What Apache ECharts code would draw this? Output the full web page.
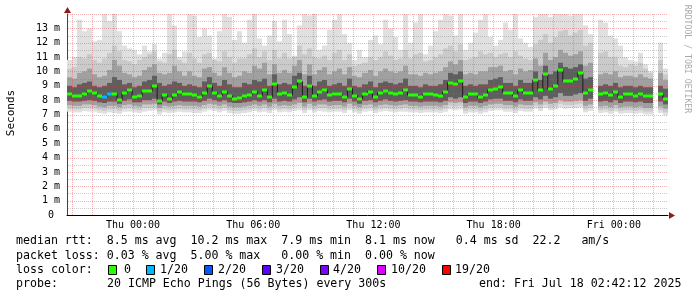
<!DOCTYPE html>
<html><head><meta charset="utf-8">
<script src="https://cdn.jsdelivr.net/npm/echarts@6/dist/echarts.min.js"></script>
<style>html,body{margin:0;padding:0;background:#fff;overflow:hidden}#c{width:697px;height:297px}</style>
</head><body><div id="c"></div>
<script>
// time axis in hours relative to Thu 00:00 (start Wed 20:42:12, end Fri 02:42:12)
const startHour = -3.2967;
const endHour = 26.7033;
const stepHours = 0.25; // 15-minute bins

const median = [8.45,8.3,8.3,8.4,8.65,8.5,8.3,8.25,8.4,8.45,
 8.0,8.5,8.7,8.2,8.27,8.65,8.65,9.0,7.95,8.35,
 8.1,8.35,8.6,8.4,8.4,8.35,8.25,8.5,9.0,8.5,
 8.3,8.6,8.3,8.1,8.15,8.27,8.35,8.6,8.3,8.7,
 8.25,9.1,8.4,8.5,8.35,8.9,9.3,8.2,9.0,8.3,
 8.6,8.7,8.35,8.4,8.4,8.25,8.8,8.3,8.1,8.45,
 8.6,8.2,8.5,8.65,8.5,8.4,8.5,8.7,8.35,8.35,
 8.25,8.4,8.4,8.35,8.3,8.55,9.2,9.1,9.3,8.2,
 8.4,8.4,8.2,8.35,8.7,8.8,8.9,8.5,8.5,8.3,
 8.7,8.5,8.5,9.4,8.7,9.8,8.75,9.0,10.1,9.3,
 9.3,9.45,9.9,8.5,8.7,null,8.4,8.5,8.35,8.6,
 8.2,8.4,8.4,8.3,8.4,8.27,8.27,null,8.4,8.1];

// smoke envelope: lightest layer (min..max)
const smokeMax = [10.8,11.0,13.6,12.8,13.0,12.1,12.2,14.2,13.5,14.2,
 12.8,11.8,11.6,11.5,11.2,11.8,11.4,11.9,10.9,11.3,
 14.2,13.2,11.0,11.4,14.2,13.9,12.4,13.0,12.5,10.9,
 12.8,14.2,13.8,12.2,12.8,12.0,13.6,14.2,12.3,11.8,
 12.5,13.5,12.1,13.6,12.6,11.1,13.2,14.2,13.9,14.2,
 11.5,11.8,12.9,13.6,14.2,12.6,12.0,10.8,11.5,11.0,
 12.2,12.5,11.9,13.6,13.0,12.4,11.5,14.2,12.0,13.4,
 14.0,11.2,11.8,12.8,13.6,14.2,13.9,12.5,14.2,11.5,
 12.0,12.7,13.6,14.2,12.4,11.8,12.2,13.4,12.9,14.0,
 12.3,12.0,11.7,13.8,14.2,14.2,13.8,14.2,14.2,14.2,
 13.9,14.2,14.2,13.2,12.6,null,13.6,13.4,12.5,12.3,
 11.8,11.0,10.8,10.7,11.3,10.5,10.0,null,12.0,10.2];
const smokeMin = [7.2,7.15,7.15,7.25,7.2,7.2,7.1,7.05,7.15,7.1,
 7.05,7.2,7.2,7.15,7.1,7.2,7.25,7.3,7.0,7.15,
 7.1,7.15,7.2,7.15,7.15,7.1,7.1,7.2,7.3,7.25,
 7.15,7.25,7.1,7.05,7.05,7.1,7.15,7.25,7.15,7.2,
 7.1,7.3,7.15,7.2,7.15,7.25,7.3,7.1,7.3,7.15,
 7.25,7.2,7.15,7.2,7.2,7.1,7.3,7.15,7.05,7.2,
 7.25,7.1,7.2,7.25,7.2,7.15,7.2,7.2,7.15,7.15,
 7.1,7.15,7.15,7.15,7.1,7.2,7.35,7.3,7.35,7.05,
 7.15,7.15,7.05,7.15,7.25,7.3,7.3,7.2,7.2,7.1,
 7.25,7.2,7.2,7.4,7.25,7.45,7.3,7.35,7.5,7.4,
 7.45,7.45,7.5,7.15,7.25,null,7.1,7.15,7.05,7.2,
 7.05,7.1,7.1,7.05,7.1,7.0,7.0,null,7.1,6.95];
// second layer
const smokeHi2 = [10.2,10.3,11.0,10.9,11.2,10.8,10.6,10.9,11.3,11.8,
 11.4,10.8,10.7,10.5,10.8,11.0,11.2,11.4,10.7,10.6,
 11.2,11.5,10.8,10.6,11.3,10.9,10.6,11.2,11.3,10.8,
 10.7,11.4,11.0,10.6,10.9,10.9,11.2,11.6,11.0,11.4,
 10.8,11.5,10.9,11.3,10.9,11.0,11.8,11.2,11.6,11.0,
 10.9,11.1,10.8,11.3,11.5,10.8,11.2,10.4,10.5,10.6,
 11.0,10.8,11.0,11.4,11.1,10.8,10.9,11.5,10.9,11.2,
 11.3,10.7,10.8,11.0,11.2,11.6,11.8,11.4,11.9,10.8,
 10.9,11.0,11.4,11.2,11.3,11.0,11.2,11.3,11.0,11.4,
 11.1,10.9,10.8,11.9,12.2,12.6,12.0,12.4,12.8,12.9,
 12.5,12.7,12.9,11.8,12.0,null,11.3,11.4,11.0,11.0,
 10.4,10.3,10.5,10.4,10.6,10.2,9.9,null,10.8,9.8];
const smokeLo2 = [7.4,7.35,7.35,7.45,7.45,7.4,7.3,7.25,7.35,7.35,
 7.25,7.4,7.45,7.35,7.3,7.45,7.45,7.5,7.2,7.35,
 7.3,7.35,7.4,7.35,7.35,7.35,7.3,7.4,7.5,7.45,
 7.35,7.45,7.3,7.25,7.25,7.3,7.35,7.45,7.35,7.45,
 7.3,7.5,7.35,7.4,7.35,7.45,7.55,7.3,7.5,7.35,
 7.45,7.45,7.35,7.4,7.4,7.3,7.5,7.35,7.25,7.4,
 7.45,7.3,7.4,7.45,7.4,7.35,7.4,7.45,7.35,7.35,
 7.3,7.35,7.35,7.35,7.3,7.4,7.6,7.55,7.6,7.25,
 7.35,7.35,7.25,7.35,7.45,7.5,7.5,7.4,7.4,7.3,
 7.45,7.4,7.4,7.6,7.45,7.65,7.5,7.55,7.75,7.65,
 7.65,7.7,7.75,7.35,7.45,null,7.3,7.35,7.25,7.4,
 7.25,7.3,7.3,7.25,7.3,7.2,7.2,null,7.3,7.15];
// third layer
const smokeHi3 = [9.6,9.5,9.9,10.0,10.2,9.8,9.6,9.7,10.1,10.8,
 10.4,9.9,9.8,9.6,9.7,10.1,10.3,10.5,9.9,9.8,
 9.9,10.4,10.0,9.7,10.0,9.7,9.6,10.2,10.3,9.9,
 9.7,10.3,9.9,9.6,9.7,10.0,9.9,10.4,10.2,10.6,
 9.8,10.5,9.9,10.1,9.9,10.4,10.8,9.8,10.5,9.8,
 10.1,10.3,9.8,10.0,10.2,9.8,10.3,9.7,9.6,9.9,
 10.1,9.7,10.0,10.2,10.0,9.9,10.0,10.4,9.8,9.8,
 9.7,9.9,9.8,9.9,10.0,10.3,10.7,10.5,10.8,9.8,
 9.9,9.8,10.0,10.0,10.3,10.3,10.4,10.0,10.1,9.8,
 10.2,10.0,10.1,10.9,10.4,11.3,10.8,11.0,11.5,11.3,
 11.1,11.2,11.4,10.4,10.6,null,9.8,9.9,9.8,10.0,
 9.6,9.7,9.7,9.6,9.8,9.6,9.5,null,9.9,9.4];
const smokeLo3 = [7.65,7.6,7.6,7.7,7.7,7.65,7.55,7.5,7.6,7.6,
 7.5,7.65,7.7,7.6,7.55,7.7,7.7,7.75,7.45,7.6,
 7.55,7.6,7.65,7.6,7.6,7.6,7.55,7.65,7.75,7.7,
 7.6,7.7,7.55,7.5,7.5,7.55,7.6,7.7,7.6,7.7,
 7.55,7.75,7.6,7.65,7.6,7.7,7.8,7.55,7.75,7.6,
 7.7,7.7,7.6,7.65,7.65,7.55,7.75,7.6,7.5,7.65,
 7.7,7.55,7.65,7.7,7.65,7.6,7.65,7.7,7.6,7.6,
 7.55,7.6,7.6,7.6,7.55,7.65,7.85,7.8,7.85,7.5,
 7.6,7.6,7.5,7.6,7.7,7.75,7.75,7.65,7.65,7.55,
 7.7,7.65,7.65,7.85,7.7,7.9,7.75,7.8,8.0,7.9,
 7.9,7.95,8.0,7.6,7.7,null,7.55,7.6,7.5,7.65,
 7.5,7.55,7.55,7.5,7.55,7.45,7.45,null,7.55,7.4];
// darkest layer around the median
const smokeHi4 = [9.0,8.9,9.1,9.2,9.3,9.0,8.9,9.0,9.2,9.6,
 9.4,9.1,9.2,8.9,9.0,9.3,9.4,9.7,9.2,9.0,
 9.1,9.3,9.2,9.0,9.1,9.0,8.9,9.3,9.6,9.2,
 9.0,9.4,9.1,8.9,8.9,9.2,9.1,9.4,9.3,9.5,
 9.0,9.8,9.1,9.2,9.1,9.7,9.9,9.0,9.7,9.0,
 9.3,9.4,9.0,9.1,9.2,9.0,9.5,9.0,8.9,9.1,
 9.3,8.9,9.2,9.3,9.2,9.1,9.2,9.5,9.0,9.0,
 8.9,9.1,9.0,9.0,9.1,9.4,9.9,9.8,10.0,9.0,
 9.1,9.0,9.1,9.1,9.4,9.5,9.6,9.2,9.2,9.0,
 9.4,9.2,9.2,10.0,9.4,10.4,9.8,10.0,10.6,10.3,
 10.2,10.3,10.5,9.5,9.6,null,9.0,9.1,9.0,9.2,
 8.9,9.0,9.0,8.9,9.0,8.9,8.9,null,9.0,8.8];
const smokeLo4 = [7.95,7.9,7.9,7.95,8.0,7.95,7.85,7.8,7.9,7.9,
 7.75,7.95,8.05,7.85,7.85,8.0,8.0,8.1,7.7,7.9,
 7.8,7.9,7.95,7.9,7.9,7.9,7.85,7.95,8.1,8.0,
 7.9,8.0,7.85,7.8,7.8,7.85,7.9,8.0,7.9,8.0,
 7.85,8.1,7.9,7.95,7.9,8.05,8.2,7.85,8.1,7.9,
 8.0,8.05,7.9,7.95,7.95,7.85,8.1,7.9,7.75,7.95,
 8.0,7.85,7.95,8.05,7.95,7.9,7.95,8.0,7.9,7.9,
 7.85,7.9,7.9,7.9,7.85,7.95,8.2,8.1,8.2,7.8,
 7.9,7.9,7.8,7.9,8.05,8.1,8.1,7.95,7.95,7.85,
 8.05,7.95,7.95,8.2,8.05,8.3,8.1,8.2,8.5,8.3,
 8.3,8.4,8.5,7.95,8.1,null,7.9,7.95,7.85,8.0,
 7.8,7.9,7.9,7.85,7.9,7.8,7.8,null,7.9,7.7];
// lost pings (out of 20) per bin
const lossPings = [0,0,0,0,0,0,0,1,1,0, 0,0,0,0,0,0,0,0,0,0, 0,0,0,0,0,0,0,0,0,0,
 0,0,0,0,0,0,0,0,0,0, 0,0,0,0,0,0,0,0,0,0, 0,0,0,0,0,0,0,0,0,0,
 0,0,0,0,0,0,0,0,0,0, 0,0,0,0,0,0,0,0,0,0, 0,0,0,0,0,0,0,0,0,0,
 0,0,0,0,0,0,0,0,0,0, 0,0,0,0,0,0,0,0,0,0, 0,0,0,0,0,0,0,0,0,0];

const lossLevels = [0, 1, 2, 3, 4, 10, 19];
const lossLabels = ['0', '1/20', '2/20', '3/20', '4/20', '10/20', '19/20'];
const lossColors = ['#26ff00', '#00b8ff', '#0059ff', '#5e00ff', '#7e00ff', '#dd00ff', '#ff0000'];

const xTickHours = [0, 6, 12, 18, 24];
const xTickLabels = ['Thu 00:00', 'Thu 06:00', 'Thu 12:00', 'Thu 18:00', 'Fri 00:00'];
const yMax = 14;

const legendLine1 = 'median rtt:  8.5 ms avg  10.2 ms max  7.9 ms min  8.1 ms now   0.4 ms sd  22.2   am/s';
const legendLine2 = 'packet loss: 0.03 % avg  5.00 % max   0.00 % min  0.00 % now';
const probeText = '20 ICMP Echo Pings (56 Bytes) every 300s';
const endText = 'end: Fri Jul 18 02:42:12 2025';

function lossColor(n) {
  let c = lossColors[0];
  for (let k = 0; k < lossLevels.length; k++) if (n >= lossLevels[k]) c = lossColors[k];
  return c;
}

const smokeData = [], medData = [], lineData = [];
for (let i = 0; i < median.length; i++) {
  const x = startHour + (i + 0.5) * stepHours;
  if (median[i] == null) { lineData.push([x, '-']); continue; }
  smokeData.push([x, smokeMin[i], smokeMax[i], smokeLo2[i], smokeHi2[i], smokeLo3[i], smokeHi3[i], smokeLo4[i], smokeHi4[i]]);
  medData.push([x, median[i], lossPings[i]]);
  lineData.push([x, median[i]]);
}
const vGrid = [];
for (let h = Math.ceil(startHour); h <= Math.floor(endHour); h++) vGrid.push([h, 0]);
const hGrid = [];
for (let v = 0.5; v <= yMax + 0.001; v += 0.5) hGrid.push([startHour, v]);

// dotted line as a compound path of 1px squares (1 on, 1 off)
function dotPathV(x, y0, y1) {
  let d = '';
  for (let y = y0; y < y1; y += 2) d += 'M' + x + ' ' + y + 'h1v1h-1z';
  return d;
}
function dotPathH(x0, x1, y) {
  let d = '';
  for (let x = x0; x < x1; x += 2) d += 'M' + x + ' ' + y + 'h1v1h-1z';
  return d;
}
const GRID_RED = 'rgba(220,60,60,0.38)';
const GRID_GRAY = 'rgba(120,120,120,0.38)';

const MONO = '"DejaVu Sans Mono", monospace';
const chart = echarts.init(document.getElementById('c'), null, {renderer: 'canvas'});

function snap(v) { return Math.round(v); }

chart.setOption({
  animation: false,
  backgroundColor: '#ffffff',
  grid: {left: 67, top: 14, width: 601, height: 201, containLabel: false},
  xAxis: {
    type: 'value', min: startHour, max: endHour,
    axisLine: {show: true, onZero: false, lineStyle: {color: '#000', width: 1}},
    axisTick: {show: false},
    splitLine: {show: false},
    axisLabel: {
      customValues: xTickHours,
      formatter: v => { const k = xTickHours.indexOf(Math.round(v)); return k >= 0 ? xTickLabels[k] : ''; },
      fontFamily: MONO, fontSize: 10, color: '#000', margin: 5
    }
  },
  yAxis: {
    type: 'value', min: 0, max: yMax, interval: 1,
    axisLine: {show: true, onZero: false, lineStyle: {color: '#444', width: 1}},
    axisTick: {show: false},
    splitLine: {show: false},
    axisLabel: {
      formatter: v => v === 0 ? '0 ' : (v >= yMax ? '' : v + ' m'),
      fontFamily: MONO, fontSize: 10, color: '#000', margin: 7
    }
  },
  series: [
    {
      type: 'custom', name: 'smoke', z: 2, clip: true,
      data: smokeData,
      encode: {x: 0, y: [1, 2]},
      renderItem: (params, api) => {
        const x = api.value(0);
        const layers = [[1, 2, '#e0e0e0'], [3, 4, '#cacaca'], [5, 6, '#a0a0a0'], [7, 8, '#5e5e5e']];
        const children = layers.map(([a, b, col]) => {
          const p0 = api.coord([x - stepHours / 2, api.value(b)]);
          const p1 = api.coord([x + stepHours / 2, api.value(a)]);
          const x0 = snap(p0[0]), x1 = snap(p1[0]);
          return {type: 'rect', shape: {x: x0, y: p0[1], width: x1 - x0, height: p1[1] - p0[1]}, style: {fill: col}};
        });
        return {type: 'group', children};
      }
    },
    {
      type: 'custom', name: 'vgrid', z: 3, silent: true,
      data: vGrid, encode: {x: 0, y: 1},
      renderItem: (params, api) => {
        const h = api.value(0);
        const p = api.coord([h, 0]), q = api.coord([h, yMax]);
        const x = Math.floor(p[0]);
        const yt = Math.round(q[1]), yb = Math.round(p[1]);
        return {type: 'path', shape: {pathData: dotPathV(x, yt, yb)}, style: {fill: GRID_RED, stroke: null}};
      }
    },
    {
      type: 'custom', name: 'hgrid', z: 3, silent: true,
      data: hGrid, encode: {x: 0, y: 1},
      renderItem: (params, api) => {
        const v = api.value(1);
        const p = api.coord([startHour, v]), q = api.coord([endHour, v]);
        const y = Math.round(p[1]);
        const major = Math.abs(v - Math.round(v)) < 1e-6;
        const x0 = Math.round(p[0]) + 1, x1 = Math.round(q[0]);
        return {type: 'path', shape: {pathData: dotPathH(x0, x1, y)}, style: {fill: major ? GRID_RED : GRID_GRAY, stroke: null}};
      }
    },
    {
      type: 'line', name: 'medline', z: 4, data: lineData, step: 'middle',
      showSymbol: false, symbol: 'none', connectNulls: false,
      lineStyle: {color: '#1c1c1c', width: 1}, silent: true
    },
    {
      type: 'custom', name: 'median', z: 5, clip: true,
      data: medData, encode: {x: 0, y: 1},
      renderItem: (params, api) => {
        const x = api.value(0);
        const p0 = api.coord([x - stepHours / 2, api.value(1)]);
        const p1 = api.coord([x + stepHours / 2, api.value(1)]);
        const x0 = snap(p0[0]), x1 = snap(p1[0]);
        return {type: 'rect', shape: {x: x0, y: Math.round(p0[1]) - 1.5, width: x1 - x0, height: 3},
          style: {fill: lossColor(api.value(2))}};
      }
    }
  ]
});

// decorations and legend text
const o = chart.convertToPixel({gridIndex: 0}, [startHour, 0]);
const t = chart.convertToPixel({gridIndex: 0}, [startHour, yMax]);
const r = chart.convertToPixel({gridIndex: 0}, [endHour, 0]);
const ax = Math.round(o[0]) + 0.5, ay = Math.round(o[1]) + 0.5;
const LEG = '11.6px ' + MONO;
const g = [];
g.push({type: 'polygon', shape: {points: [[ax - 3.5, t[1] - 1], [ax + 3.5, t[1] - 1], [ax, t[1] - 7]]}, style: {fill: '#8c1c1c'}});
g.push({type: 'polygon', shape: {points: [[r[0] + 1, ay - 3.5], [r[0] + 1, ay + 3.5], [r[0] + 7, ay]]}, style: {fill: '#8c1c1c'}});
g.push({type: 'text', x: 11, y: 113, rotation: Math.PI / 2,
  style: {text: 'Seconds', font: '11px ' + MONO, fill: '#000', align: 'center', verticalAlign: 'middle'}});
g.push({type: 'text', x: 687, y: 59, rotation: -Math.PI / 2,
  style: {text: 'RRDTOOL / TOBI OETIKER', font: '8.2px ' + MONO, fill: '#aaaaaa', align: 'center', verticalAlign: 'middle'}});
g.push({type: 'text', x: 16, y: 241, style: {text: legendLine1, font: LEG, fill: '#000', verticalAlign: 'middle'}});
g.push({type: 'text', x: 16, y: 256, style: {text: legendLine2, font: LEG, fill: '#000', verticalAlign: 'middle'}});
g.push({type: 'text', x: 16, y: 270, style: {text: 'loss color:', font: LEG, fill: '#000', verticalAlign: 'middle'}});
const sqX = [108, 146, 204, 262, 320, 377, 442];
const lbX = [124, 160, 218, 276, 333, 391, 455];
for (let k = 0; k < lossLabels.length; k++) {
  g.push({type: 'rect', shape: {x: sqX[k] + 0.5, y: 265.5, width: 8, height: 9}, style: {fill: lossColors[k], stroke: '#000', lineWidth: 1}});
  g.push({type: 'text', x: lbX[k], y: 270, style: {text: lossLabels[k], font: LEG, fill: '#000', verticalAlign: 'middle'}});
}
g.push({type: 'text', x: 16, y: 284, style: {text: 'probe:', font: LEG, fill: '#000', verticalAlign: 'middle'}});
g.push({type: 'text', x: 107, y: 284, style: {text: probeText, font: LEG, fill: '#000', verticalAlign: 'middle'}});
g.push({type: 'text', x: 479, y: 284, style: {text: endText, font: LEG, fill: '#000', verticalAlign: 'middle'}});
chart.setOption({graphic: g});
</script>
</body></html>
